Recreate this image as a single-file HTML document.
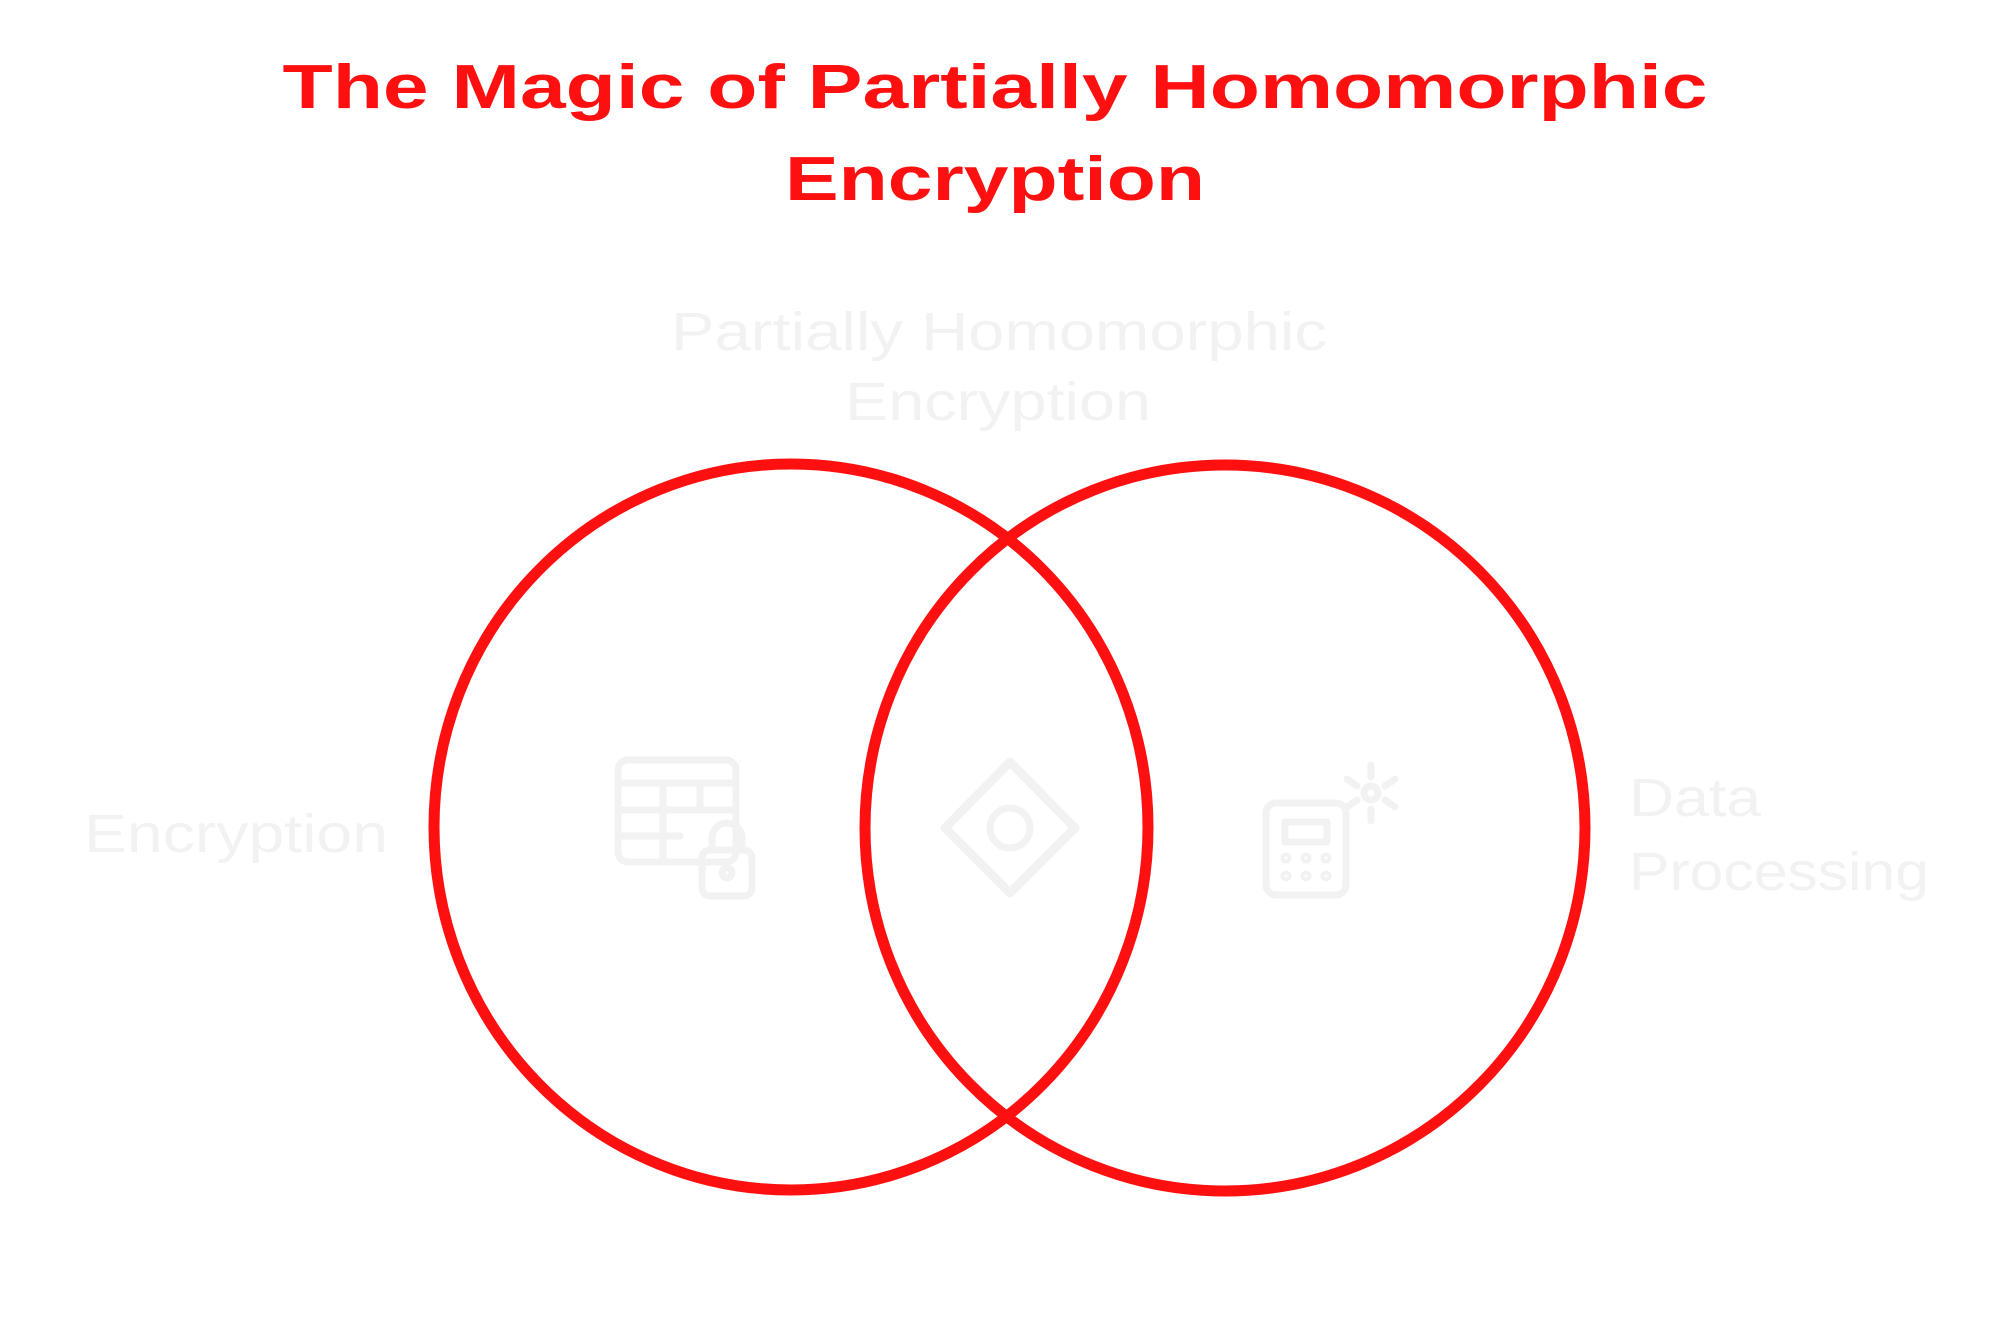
<!DOCTYPE html>
<html><head><meta charset="utf-8"><style>html,body{margin:0;padding:0;background:#fff}svg{display:block}</style></head>
<body>
<svg width="2016" height="1332" viewBox="0 0 2016 1332">
<rect width="2016" height="1332" fill="#fff"/>
<g font-family="Liberation Sans, sans-serif" font-weight="bold" fill="#ff1010" text-anchor="middle">
<text x="995" y="108" font-size="62" textLength="1425" lengthAdjust="spacingAndGlyphs">The Magic of Partially Homomorphic</text>
<text x="995" y="200" font-size="62" textLength="420" lengthAdjust="spacingAndGlyphs">Encryption</text>
</g>
<g font-family="Liberation Sans, sans-serif" fill="#f2f2f2" font-size="54">
<text x="999" y="350" text-anchor="middle" textLength="656" lengthAdjust="spacingAndGlyphs">Partially Homomorphic</text>
<text x="998" y="420" text-anchor="middle" textLength="306" lengthAdjust="spacingAndGlyphs">Encryption</text>
<text x="84" y="852" textLength="304" lengthAdjust="spacingAndGlyphs">Encryption</text>
<text x="1629" y="816" textLength="132" lengthAdjust="spacingAndGlyphs">Data</text>
<text x="1629" y="890" textLength="300" lengthAdjust="spacingAndGlyphs">Processing</text>
</g>
<g fill="none" stroke="#f2f2f2" stroke-width="7" stroke-linecap="round" stroke-linejoin="round">
<g>
<rect x="618" y="760" width="118" height="102" rx="10"/>
<line x1="618" y1="783" x2="736" y2="783"/><line x1="618" y1="810" x2="736" y2="810"/>
<line x1="618" y1="836" x2="680" y2="836"/><line x1="663" y1="783" x2="663" y2="862"/><line x1="700" y1="783" x2="700" y2="810"/>
<rect x="702" y="850" width="50" height="46" rx="8"/><path d="M712 850 v-12 a15 15 0 0 1 30 0 v12"/><circle cx="727" cy="873" r="5"/>
</g>
<g>
<path d="M1010 762 L1075 828 L1010 893 L945 828 Z" stroke-width="9"/><circle cx="1010" cy="828" r="20"/>
</g>
<g>
<rect x="1266" y="803" width="80" height="92" rx="10"/><rect x="1285" y="822" width="42" height="20"/>
<circle cx="1286" cy="858" r="2"/><circle cx="1306" cy="858" r="2"/><circle cx="1326" cy="858" r="2"/>
<circle cx="1286" cy="876" r="2"/><circle cx="1306" cy="876" r="2"/><circle cx="1326" cy="876" r="2"/>
<circle cx="1371" cy="793" r="7"/><path d="M1371 765 v12 M1371 809 v12 M1347 779 l10 7 M1385 800 l10 7 M1347 807 l10 -7 M1385 786 l10 -7"/>
</g>
</g>
<g fill="none" stroke="#ff1010" stroke-width="11">
<ellipse cx="791" cy="827" rx="357" ry="363"/>
<ellipse cx="1225" cy="828" rx="360" ry="363"/>
</g>
</svg>
</body></html>
